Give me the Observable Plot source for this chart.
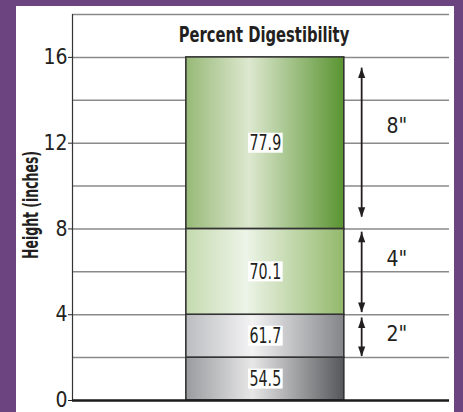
<!DOCTYPE html>
<html>
<head>
<meta charset="utf-8">
<script src="https://cdn.jsdelivr.net/npm/d3@7"></script>
<script src="https://cdn.jsdelivr.net/npm/@observablehq/plot@0.6"></script>
<style>
  html, body { margin: 0; padding: 0; }
  body { width: 463px; height: 412px; background: #6c4480; position: relative; overflow: hidden; }
  #panel { position: absolute; left: 16px; top: 6px; width: 438px; height: 406px; background: #ffffff; }
  #panel svg { overflow: visible; }
</style>
</head>
<body>
<div id="panel"></div>
<script>
// ---- data ----
const segBottom = [0, 2, 4, 8];          // inches
const segTop = [2, 4, 8, 16];            // inches
const digestibility = [54.5, 61.7, 70.1, 77.9]; // percent
const arrowTop = [15.5, 7.85, 3.85];     // arrow tips (inches)
const arrowBottom = [8.55, 4.1, 2.05];
const arrowText = ['8"', '4"', '2"'];
const arrowTextY = [12.8, 6.6, 3.1];
const yTicks = [0, 4, 8, 12, 16];
const gridValues = [2, 4, 6, 8, 10, 12, 14, 16, 18];
const titleText = "Percent Digestibility";
const yLabel = "Height (inches)";

const gradients = [
  [["0", "#9a9b9e"], ["0.42", "#e7e7e8"], ["1", "#56575a"]],
  [["0", "#bcbdc0"], ["0.42", "#f3f3f4"], ["1", "#848589"]],
  [["0", "#c4daae"], ["0.38", "#edf4e8"], ["1", "#93b96b"]],
  [["0", "#97b977"], ["0.4", "#dde8cf"], ["1", "#5a9431"]]
];

const segments = segBottom.map((b, i) => ({lo: b, hi: segTop[i], value: digestibility[i], i}));
const arrows = arrowTop.map((t, i) => ({top: t, bottom: arrowBottom[i], label: arrowText[i], ly: arrowTextY[i]}));

const barLeft = 3.02, barRight = 7.21, arrowX = 7.67, arrowLabelX = 8.6, titleX = 5.08;

const font = '"DejaVu Sans Condensed", "Liberation Sans Narrow", sans-serif';

const headUp = {
  draw(context) {
    context.moveTo(0, 0);
    context.lineTo(3.6, 10);
    context.lineTo(-3.6, 10);
    context.closePath();
  }
};

const chart = Plot.plot({
  width: 438,
  height: 406,
  marginLeft: 56,
  marginRight: 5,
  marginTop: 8,
  marginBottom: 12,
  style: {fontFamily: font, fontSize: "21px", color: "#231f20", background: "white", overflow: "visible"},
  x: {domain: [0, 10], axis: null},
  y: {domain: [0, 18], ticks: yTicks, tickSize: 4, tickPadding: 1, label: null},
  color: {type: "identity"},
  marks: [
    Plot.ruleY(gridValues, {stroke: "#8a8a8a", strokeWidth: 1.5}),
    Plot.rect(segments, {
      x1: () => barLeft, x2: () => barRight, y1: "lo", y2: "hi",
      fill: d => `url(#seg${d.i})`, stroke: "#333333", strokeWidth: 1.6
    }),
    Plot.text(segments, {
      x: () => (barLeft + barRight) / 2, y: d => (d.lo + d.hi) / 2,
      text: d => d.value.toFixed(1), fontSize: 22, fill: "#231f20"
    }),
    Plot.ruleX(arrows, {x: () => arrowX, y1: "bottom", y2: "top", stroke: "#231f20", strokeWidth: 1.8}),
    Plot.dot(arrows, {x: () => arrowX, y: "top", symbol: headUp, r: 4, fill: "#231f20", stroke: null}),
    Plot.dot(arrows, {x: () => arrowX, y: "bottom", symbol: headUp, rotate: 180, r: 4, fill: "#231f20", stroke: null}),
    Plot.text(arrows, {x: () => arrowLabelX, y: "ly", text: "label", fontSize: 21, fill: "#231f20"}),
    Plot.text([titleText], {x: () => titleX, y: () => 17.05, text: d => d, fontSize: 21, fontWeight: "bold", fill: "#231f20"}),
    Plot.text([yLabel], {frameAnchor: "left", y: () => 6.6, text: d => d, rotate: -90, textAnchor: "start", dx: -41, fontSize: 21, fontWeight: "bold", fill: "#231f20"}),
    Plot.ruleX([0], {stroke: "#333333", strokeWidth: 1.2}),
    Plot.ruleY([0], {stroke: "#1a1a1a", strokeWidth: 2.6})
  ]
});

document.getElementById("panel").appendChild(chart);

// gradient definitions for the bar segments
const svgNS = "http://www.w3.org/2000/svg";
const defs = document.createElementNS(svgNS, "defs");
gradients.forEach((stops, i) => {
  const g = document.createElementNS(svgNS, "linearGradient");
  g.setAttribute("id", `seg${i}`);
  g.setAttribute("x1", "0"); g.setAttribute("x2", "1");
  g.setAttribute("y1", "0"); g.setAttribute("y2", "0");
  stops.forEach(([o, c]) => {
    const s = document.createElementNS(svgNS, "stop");
    s.setAttribute("offset", o);
    s.setAttribute("stop-color", c);
    g.appendChild(s);
  });
  defs.appendChild(g);
});
chart.insertBefore(defs, chart.firstChild);

// horizontally condense texts to imitate a condensed face (factor of natural width)
const valueStrings = new Set(digestibility.map(v => v.toFixed(1)));
const condense = new Map([[titleText, 0.78], [yLabel, 0.66]]);
valueStrings.forEach(s => condense.set(s, 0.72));
chart.querySelectorAll("text").forEach(t => {
  const f = condense.get(t.textContent);
  if (!f) return;
  const w = t.getComputedTextLength();
  t.setAttribute("textLength", (w * f).toFixed(1));
  t.setAttribute("lengthAdjust", "spacingAndGlyphs");
});

// white boxes behind the value labels
chart.querySelectorAll("text").forEach(t => {
  if (!valueStrings.has(t.textContent)) return;
  const bb = t.getBBox();
  const r = document.createElementNS(svgNS, "rect");
  r.setAttribute("x", bb.x - 1.5);
  r.setAttribute("y", bb.y + 2.5);
  r.setAttribute("width", bb.width + 3);
  r.setAttribute("height", bb.height - 5);
  r.setAttribute("fill", "white");
  const tr = t.getAttribute("transform");
  if (tr) r.setAttribute("transform", tr);
  t.parentNode.insertBefore(r, t);
});
</script>
</body>
</html>
